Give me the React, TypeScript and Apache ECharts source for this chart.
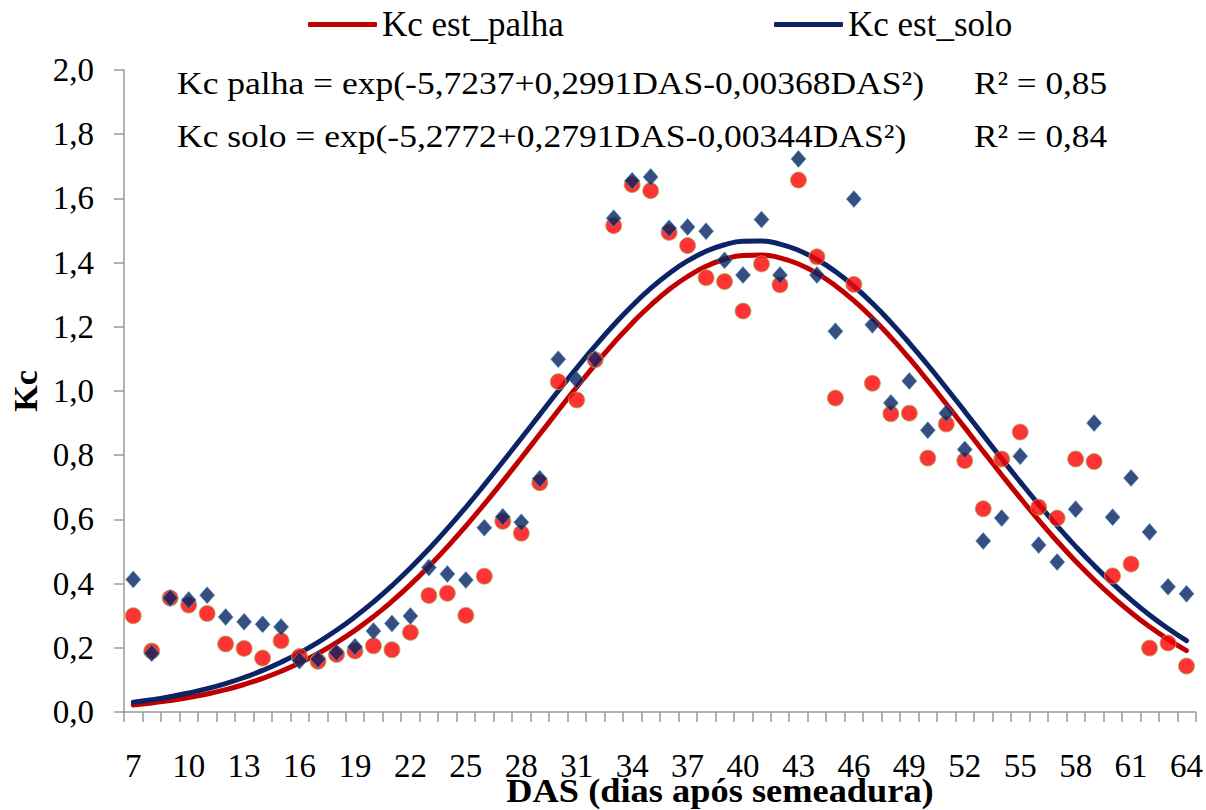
import React, { useEffect, useRef } from "react";
import * as echarts from "echarts";

// DAS (dias após semeadura)
const days: string[] = [
  "7", "8", "9", "10", "11", "12", "13", "14", "15", "16",
  "17", "18", "19", "20", "21", "22", "23", "24", "25", "26",
  "27", "28", "29", "30", "31", "32", "33", "34", "35", "36",
  "37", "38", "39", "40", "41", "42", "43", "44", "45", "46",
  "47", "48", "49", "50", "51", "52", "53", "54", "55", "56",
  "57", "58", "59", "60", "61", "62", "63", "64",
];

// Observed Kc (palha) – circles
const kcPalha: number[] = [
  0.300, 0.190, 0.355, 0.333, 0.307, 0.212, 0.198, 0.168, 0.222, 0.173,
  0.158, 0.179, 0.190, 0.206, 0.194, 0.248, 0.363, 0.370, 0.301, 0.423,
  0.594, 0.557, 0.714, 1.029, 0.972, 1.097, 1.515, 1.643, 1.624, 1.494,
  1.453, 1.353, 1.341, 1.249, 1.396, 1.331, 1.657, 1.418, 0.978, 1.332,
  1.024, 0.929, 0.931, 0.791, 0.897, 0.783, 0.633, 0.788, 0.872, 0.638,
  0.604, 0.788, 0.780, 0.424, 0.461, 0.199, 0.215, 0.143,
];

// Observed Kc (solo) – diamonds
const kcSolo: number[] = [
  0.413, 0.183, 0.355, 0.349, 0.364, 0.296, 0.281, 0.273, 0.265, 0.160,
  0.164, 0.185, 0.203, 0.252, 0.276, 0.299, 0.450, 0.430, 0.411, 0.574,
  0.608, 0.591, 0.727, 1.099, 1.034, 1.099, 1.538, 1.655, 1.667, 1.507,
  1.511, 1.498, 1.407, 1.361, 1.534, 1.361, 1.723, 1.361, 1.186, 1.598,
  1.206, 0.963, 1.031, 0.878, 0.931, 0.818, 0.533, 0.604, 0.797, 0.520,
  0.467, 0.632, 0.900, 0.607, 0.729, 0.561, 0.390, 0.368,
];

// Estimated Kc (palha) – red curve
const kcEstPalha: number[] = [
  0.0221, 0.0283, 0.0358, 0.0450, 0.0562, 0.0696, 0.0857, 0.1046, 0.1268, 0.1526,
  0.1822, 0.2161, 0.2543, 0.2971, 0.3446, 0.3967, 0.4533, 0.5143, 0.5791, 0.6474,
  0.7184, 0.7913, 0.8653, 0.9392, 1.0120, 1.0824, 1.1492, 1.2112, 1.2672, 1.3160,
  1.3567, 1.3884, 1.4105, 1.4223, 1.4238, 1.4148, 1.3955, 1.3665, 1.3282, 1.2815,
  1.2274, 1.1669, 1.1013, 1.0318, 0.9596, 0.8858, 0.8118, 0.7385, 0.6668, 0.5978,
  0.5319, 0.4698, 0.4119, 0.3585, 0.3098, 0.2657, 0.2262, 0.1912,
];

// Estimated Kc (solo) – navy curve
const kcEstSolo: number[] = [
  0.0304, 0.0382, 0.0476, 0.0590, 0.0726, 0.0886, 0.1075, 0.1295, 0.1549, 0.1841,
  0.2173, 0.2546, 0.2964, 0.3426, 0.3933, 0.4485, 0.5078, 0.5711, 0.6378, 0.7075,
  0.7794, 0.8527, 0.9265, 0.9998, 1.0715, 1.1405, 1.2056, 1.2656, 1.3196, 1.3664,
  1.4051, 1.4351, 1.4557, 1.4664, 1.4671, 1.4577, 1.4384, 1.4097, 1.3720, 1.3263,
  1.2732, 1.2139, 1.1494, 1.0809, 1.0095, 0.9364, 0.8626, 0.7891, 0.7170, 0.6470,
  0.5798, 0.5160, 0.4561, 0.4004, 0.3491, 0.3023, 0.2600, 0.2220,
];

const eqPalha = "Kc palha = exp(-5,7237+0,2991DAS-0,00368DAS²)";
const eqSolo = "Kc solo = exp(-5,2772+0,2791DAS-0,00344DAS²)";
const r2Palha = "R² = 0,85";
const r2Solo = "R² = 0,84";
const xTitle = "DAS (dias após semeadura)";
const yTitle = "Kc";

const FONT = "'Liberation Serif', 'Times New Roman', Times, serif";

export default function App() {
  const ref = useRef<HTMLDivElement>(null);

  useEffect(() => {
    document.body.style.margin = "0";
    if (!ref.current) return;
    const chart = echarts.init(ref.current, undefined, { renderer: "svg" });

    const legendBase = {
      top: 7,
      padding: 0,
      icon: "roundRect",
      itemWidth: 69,
      itemHeight: 5,
      itemGap: 5,
      selectedMode: false,
      textStyle: { fontFamily: FONT, fontSize: 35, color: "#000" },
    };

    const option: any = {
      animation: false,
      backgroundColor: "#ffffff",
      textStyle: { fontFamily: FONT },
      grid: { left: 124, right: 10, top: 70, bottom: 98, containLabel: false },
      legend: [
        { ...legendBase, data: ["Kc est_palha"], left: 308 },
        { ...legendBase, data: ["Kc est_solo"], left: 774 },
      ],
      xAxis: {
        type: "category",
        data: days,
        boundaryGap: true,
        axisLine: { show: true, lineStyle: { color: "#9a9a9a", width: 1.5 } },
        axisTick: {
          show: true,
          interval: 0,
          alignWithLabel: false,
          length: 10,
          lineStyle: { color: "#9a9a9a", width: 1.5 },
        },
        axisLabel: {
          interval: 2,
          fontFamily: FONT,
          fontSize: 33,
          color: "#000",
          margin: 37,
        },
        splitLine: { show: false },
      },
      yAxis: {
        type: "value",
        min: 0,
        max: 2,
        interval: 0.2,
        axisLine: { show: true, lineStyle: { color: "#9a9a9a", width: 1.5 } },
        axisTick: { show: true, length: 10, lineStyle: { color: "#9a9a9a", width: 1.5 } },
        axisLabel: {
          fontFamily: FONT,
          fontSize: 33,
          color: "#000",
          margin: 30,
          formatter: (v: number) => v.toFixed(1).replace(".", ","),
        },
        splitLine: { show: false },
      },
      graphic: [
        {
          type: "text",
          x: 177,
          y: 83,
          scaleX: 1.11,
          style: { text: eqPalha, font: `32px ${FONT}`, fill: "#000", textAlign: "left", textVerticalAlign: "middle" },
        },
        {
          type: "text",
          x: 974,
          y: 83,
          scaleX: 1.1,
          style: { text: r2Palha, font: `32px ${FONT}`, fill: "#000", textAlign: "left", textVerticalAlign: "middle" },
        },
        {
          type: "text",
          x: 177,
          y: 136,
          scaleX: 1.11,
          style: { text: eqSolo, font: `32px ${FONT}`, fill: "#000", textAlign: "left", textVerticalAlign: "middle" },
        },
        {
          type: "text",
          x: 974,
          y: 136,
          scaleX: 1.1,
          style: { text: r2Solo, font: `32px ${FONT}`, fill: "#000", textAlign: "left", textVerticalAlign: "middle" },
        },
        {
          type: "text",
          x: 720,
          y: 791,
          scaleX: 1.07,
          style: { text: xTitle, font: `bold 34px ${FONT}`, fill: "#000", textAlign: "center", textVerticalAlign: "middle" },
        },
        {
          type: "text",
          x: 25,
          y: 391,
          rotation: Math.PI / 2,
          style: { text: yTitle, font: `bold 34px ${FONT}`, fill: "#000", textAlign: "center", textVerticalAlign: "middle" },
        },
      ],
      series: [
        {
          name: "Kc est_palha",
          type: "line",
          data: kcEstPalha,
          smooth: true,
          showSymbol: false,
          symbol: "none",
          color: "#c00000",
          lineStyle: { color: "#c00000", width: 5, cap: "round" },
          itemStyle: { color: "#c00000" },
          z: 2,
        },
        {
          name: "Kc est_solo",
          type: "line",
          data: kcEstSolo,
          smooth: true,
          showSymbol: false,
          symbol: "none",
          color: "#0a2466",
          lineStyle: { color: "#0a2466", width: 5, cap: "round" },
          itemStyle: { color: "#0a2466" },
          z: 2,
        },
        {
          name: "Kc palha",
          type: "scatter",
          data: kcPalha,
          symbol: "circle",
          symbolSize: 16,
          itemStyle: { color: "#ff0000", borderColor: "#a5b25a", borderWidth: 1 },
          z: 3,
        },
        {
          name: "Kc solo",
          type: "scatter",
          data: kcSolo,
          symbol: "diamond",
          symbolSize: [15, 17],
          itemStyle: { color: "#062060", borderColor: "#4a9cc4", borderWidth: 0.8 },
          z: 4,
        },
      ],
    };

    chart.setOption(option);
    return () => {
      chart.dispose();
    };
  }, []);

  return <div ref={ref} style={{ width: 1206, height: 810 }} />;
}
